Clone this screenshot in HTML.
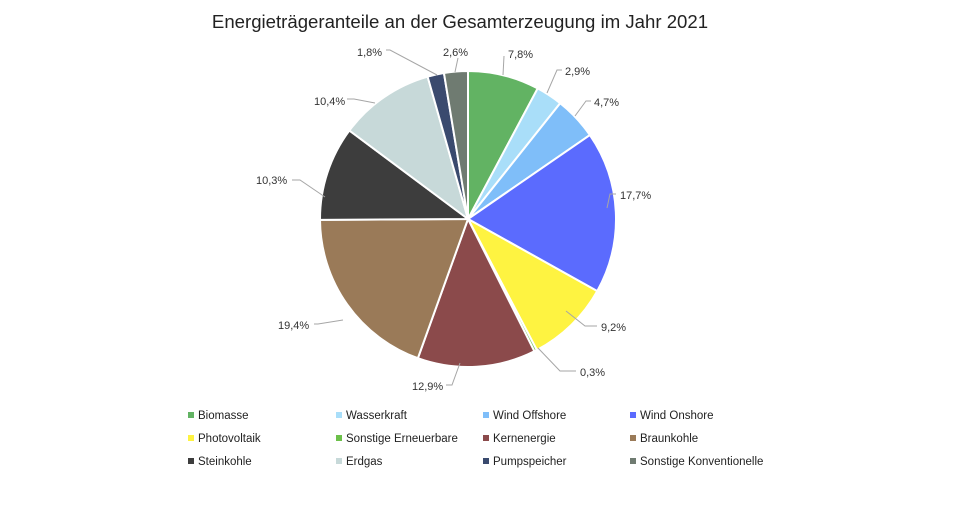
<!DOCTYPE html>
<html><head><meta charset="utf-8"><style>
body{margin:0;background:#fff;width:960px;height:500px;overflow:hidden;font-family:"Liberation Sans",sans-serif}
</style></head><body>
<svg id="s" width="960" height="500" xmlns="http://www.w3.org/2000/svg" font-family="Liberation Sans, sans-serif">
<text x="460" y="28" font-size="18.6" text-anchor="middle" fill="#222">Energieträgeranteile an der Gesamterzeugung im Jahr 2021</text>
<g id="pie"></g>
<g font-size="11" fill="#333">
<text x="508" y="58">7,8%</text>
<text x="565" y="75">2,9%</text>
<text x="594" y="106">4,7%</text>
<text x="620" y="199">17,7%</text>
<text x="601" y="331">9,2%</text>
<text x="580" y="376">0,3%</text>
<text x="412" y="390">12,9%</text>
<text x="278" y="329">19,4%</text>
<text x="256" y="184">10,3%</text>
<text x="314" y="105">10,4%</text>
<text x="357" y="56">1,8%</text>
<text x="443" y="56">2,6%</text>
</g>
<g stroke="#a6a6a6" fill="none" stroke-width="1">
<polyline points="503,75 504,56"/>
<polyline points="547,93 557,70 562,70"/>
<polyline points="575,116 586,101 591,101"/>
<polyline points="607,208 610,194 616,194"/>
<polyline points="566,311 585,326 597,326"/>
<polyline points="538,348 560,371 576,371"/>
<polyline points="460,363 452,385 446,385"/>
<polyline points="343,320 318,324 314,324"/>
<polyline points="325,197 300,180 292,180"/>
<polyline points="375,103 354,99 347,99"/>
<polyline points="437,75 390,50 386,50"/>
<polyline points="455,72 458,58"/>
</g>
<g id="leg" font-size="11.5" fill="#222"></g>
</svg>
<script>
var d=[[7.8,"#62b363","Biomasse"],[2.9,"#a9def9","Wasserkraft"],[4.7,"#7fbef9","Wind Offshore"],[17.7,"#5b6bfe","Wind Onshore"],[9.2,"#fef341","Photovoltaik"],[0.3,"#6cc04a","Sonstige Erneuerbare"],[12.9,"#8b4a4b","Kernenergie"],[19.4,"#9a7a58","Braunkohle"],[10.3,"#3d3d3d","Steinkohle"],[10.4,"#c7d9d9","Erdgas"],[1.8,"#3a4a6e","Pumpspeicher"],[2.6,"#6f7b71","Sonstige Konventionelle"]];
var cx=468,cy=219,r=148,a=0,h="";
function p(t){return [cx+r*Math.sin(t),cy-r*Math.cos(t)];}
d.forEach(function(e){var a2=a+e[0]/100*2*Math.PI;var s=p(a),f=p(a2);
h+='<path d="M'+cx+','+cy+'L'+s[0]+','+s[1]+'A'+r+','+r+' 0 '+(a2-a>Math.PI?1:0)+' 1 '+f[0]+','+f[1]+'Z" fill="'+e[1]+'" stroke="#fff" stroke-width="2"/>';a=a2;});
document.getElementById('pie').innerHTML=h;
var xs=[188,336,483,630],ys=[416,439,462],l="";
d.forEach(function(e,i){var x=xs[i%4],y=ys[Math.floor(i/4)];
l+='<rect x="'+x+'" y="'+(y-4)+'" width="6" height="6" fill="'+e[1]+'"/><text x="'+(x+10)+'" y="'+(y+3)+'">'+e[2]+'</text>';});
document.getElementById('leg').innerHTML=l;
</script>
</body></html>
